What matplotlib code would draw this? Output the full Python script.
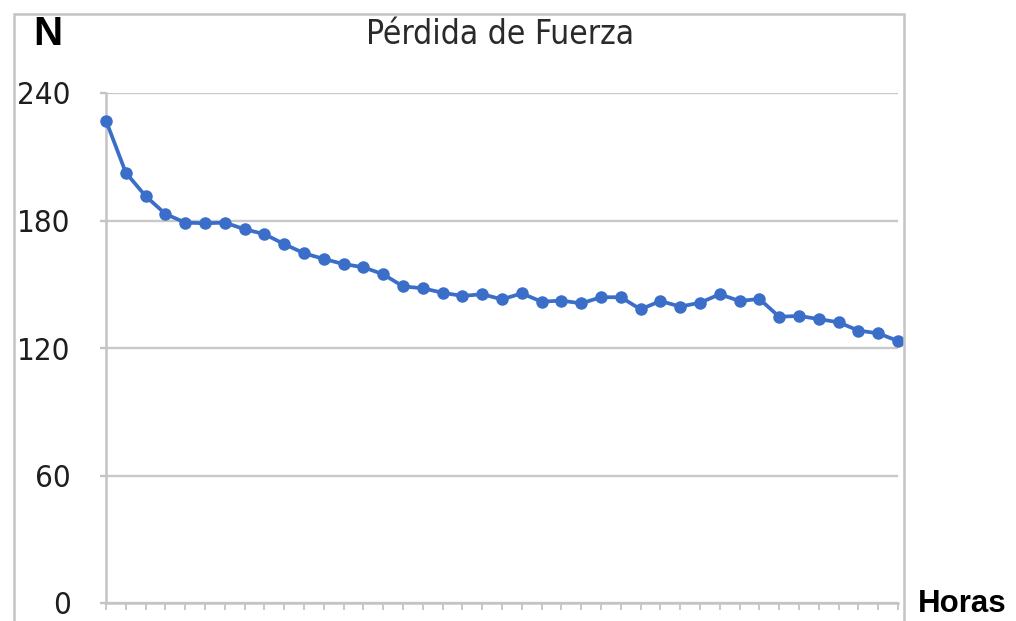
import matplotlib
matplotlib.use("Agg")
import matplotlib.pyplot as plt
from matplotlib.patches import Rectangle

hours = list(range(41))
force = [227.0, 202.5, 191.5, 183.1, 179.0, 178.7, 179.0, 175.9, 173.6, 168.9,
         164.6, 161.9, 159.5, 158.0, 154.7, 149.0, 148.1, 146.0, 144.5, 145.3,
         142.9, 145.7, 141.8, 142.3, 141.0, 143.9, 143.9, 138.2, 142.1, 139.5,
         141.3, 145.3, 142.1, 143.1, 134.7, 135.1, 133.6, 132.1, 128.2, 126.9,
         123.3]
y_ticks = [0, 60, 120, 180, 240]
title = "Pérdida de Fuerza"
y_label = "N"
x_label = "Horas"

W, H = 1016, 621
fig = plt.figure(figsize=(W / 100, H / 100), dpi=100)

def fx(px):
    return px / W

def fy(py):
    return 1 - py / H

# outer frame
fig.patches.append(Rectangle((fx(14), fy(640)), fx(904) - fx(14), fy(14) - fy(640),
                             transform=fig.transFigure, fill=False,
                             edgecolor="#c4c4c4", linewidth=1.8, zorder=0))

ax = fig.add_axes([fx(106), fy(603), fx(898) - fx(106), fy(93) - fy(603)])
ax.set_facecolor("none")

ax.plot(hours, force, color="#3a6ec8", linewidth=2.7, marker="o",
        markersize=9, markeredgewidth=0, zorder=3, clip_on=False)

ax.set_xlim(0, 40)
ax.set_ylim(0, 240)
ax.set_yticks(y_ticks)
ax.set_xticks(hours)
ax.set_xticklabels([])
ax.grid(axis="y", color="#c8c8c8", linewidth=1.7)
ax.set_axisbelow(True)

for s in ["top", "right"]:
    ax.spines[s].set_visible(False)
for s in ["left", "bottom"]:
    ax.spines[s].set_color("#c4c4c4")
    ax.spines[s].set_linewidth(1.8)

ax.tick_params(axis="x", direction="out", length=5, width=1.3, color="#c4c4c4")
ax.tick_params(axis="y", direction="out", length=4.5, width=1.7, color="#c4c4c4",
               pad=21, labelsize=22.5, labelcolor="#1e1e1e")
for lbl in ax.get_yticklabels():
    lbl.set_fontstretch("condensed")

fig.text(fx(500), fy(35), title, ha="center", va="center", fontsize=24,
         color="#2a2a2a", fontstretch="condensed")
fig.text(fx(48), fy(34), y_label, ha="center", va="center", fontsize=29,
         fontweight="bold", color="black", family="Liberation Sans")
fig.text(fx(962), fy(604), x_label, ha="center", va="center", fontsize=22.5,
         fontweight="bold", color="black", family="Liberation Sans")

fig.savefig("out.png", dpi=100)
